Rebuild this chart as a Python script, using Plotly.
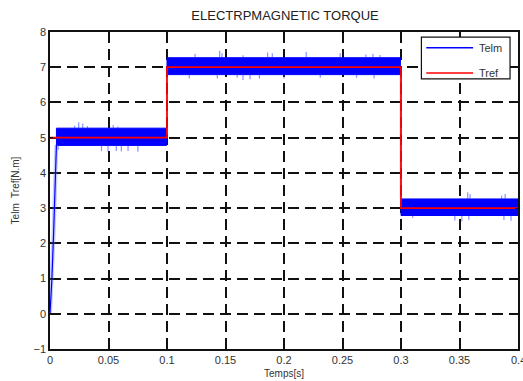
import plotly.graph_objects as go

# Reference torque (step profile)
tref_t = [0.0, 0.1, 0.3, 0.4]
tref_v = [5.0, 7.0, 3.0, 3.0]

# Measured torque: start-up rise
rise_t = [0.0, 0.0015, 0.003, 0.0045, 0.0055]
rise_v = [0.0, 0.9, 2.2, 3.8, 4.8]

# Measured torque: ripple band for each steady-state segment
seg_start = [0.0055, 0.1, 0.3]
seg_end = [0.0995, 0.2995, 0.4]
band_hi = [5.27, 7.27, 3.26]
band_lo = [4.78, 6.79, 2.79]

# Isolated ripple peaks above / below the band
peak_hi_t = [0.021, 0.0245, 0.028, 0.032, 0.054, 0.058,
             0.124, 0.145, 0.147, 0.165, 0.186, 0.190, 0.219, 0.248, 0.270, 0.276, 0.282,
             0.357, 0.359, 0.386, 0.389]
peak_hi_v = [5.34, 5.44, 5.40, 5.33, 5.36, 5.32,
             7.38, 7.47, 7.40, 7.34, 7.42, 7.40, 7.43, 7.40, 7.36, 7.38, 7.35,
             3.45, 3.40, 3.36, 3.40]
peak_lo_t = [0.007, 0.044, 0.0496, 0.0567, 0.061, 0.0667, 0.0751,
             0.119, 0.143, 0.160, 0.165, 0.171, 0.179, 0.200, 0.231, 0.262, 0.277,
             0.310, 0.346, 0.352, 0.358, 0.388, 0.394]
peak_lo_v = [4.66, 4.62, 4.60, 4.62, 4.61, 4.62, 4.60,
             6.68, 6.68, 6.70, 6.64, 6.66, 6.68, 6.68, 6.70, 6.70, 6.68,
             2.72, 2.65, 2.63, 2.66, 2.66, 2.64]

# Transition of the measured torque at t = 0.3 s
drop_t = [0.2995, 0.2995]
drop_v = [6.79, 3.26]

# x tick labels
x_ticks = [0, 0.05, 0.1, 0.15, 0.2, 0.25, 0.3, 0.35, 0.4]
x_tick_text = ["0", "0.05", "0.1", "0.15", "0.2", "0.25", "0.3", "0.35", "0.4"]

BLUE = "#0000ff"
RED = "#ff0000"
FONT = "Liberation Sans, Arial, sans-serif"
TXT = "#333"

fig = go.Figure()

# ripple band polygons
bx, by = [], []
for s, e, hi, lo in zip(seg_start, seg_end, band_hi, band_lo):
    bx += [s, e, e, s, s, None]
    by += [hi, hi, lo, lo, hi, None]
fig.add_trace(go.Scatter(x=bx, y=by, mode="lines", fill="toself", fillcolor=BLUE,
                         line=dict(color=BLUE, width=1), hoverinfo="skip", showlegend=False))


def seg_level(t, levels):
    for s, e, lv in zip(seg_start, seg_end, levels):
        if s <= t <= e:
            return lv
    return levels[-1]


px, py = [], []
for t, v in zip(peak_hi_t, peak_hi_v):
    px += [t, t, None]
    py += [seg_level(t, band_hi), v, None]
for t, v in zip(peak_lo_t, peak_lo_v):
    px += [t, t, None]
    py += [seg_level(t, band_lo), v, None]
fig.add_trace(go.Scatter(x=px, y=py, mode="lines", line=dict(color="rgba(40,60,255,0.55)", width=1.2),
                         hoverinfo="skip", showlegend=False))

# start-up rise (halo + line)
fig.add_trace(go.Scatter(x=rise_t, y=rise_v, mode="lines", line=dict(color="rgba(90,110,255,0.35)", width=4),
                         hoverinfo="skip", showlegend=False))
fig.add_trace(go.Scatter(x=rise_t, y=rise_v, mode="lines", line=dict(color=BLUE, width=1.2),
                         name="Telm", showlegend=False))
fig.add_trace(go.Scatter(x=drop_t, y=drop_v, mode="lines", line=dict(color="rgba(90,110,255,0.5)", width=1.2),
                         hoverinfo="skip", showlegend=False))

# reference torque
fig.add_trace(go.Scatter(x=tref_t, y=tref_v, mode="lines", line=dict(color=RED, width=1.8, shape="hv"),
                         name="Tref", showlegend=False))

axis_common = dict(
    showline=True, linecolor="#111", linewidth=1.6, mirror="ticks",
    ticks="inside", ticklen=3, tickcolor="#111", tickwidth=1,
    showgrid=True, gridcolor="#111", gridwidth=1.5, griddash="11px,6px",
    zeroline=False, tickfont=dict(family=FONT, size=11, color=TXT),
)
fig.update_xaxes(range=[0, 0.4], tickvals=x_ticks[:-1], ticktext=x_tick_text[:-1],
                 title=dict(text="Temps[s]", font=dict(family=FONT, size=10, color=TXT), standoff=5),
                 **axis_common)
fig.update_yaxes(range=[-1, 8], dtick=1,
                 title=dict(text="Telm  Tref[N.m]", font=dict(family=FONT, size=10, color=TXT), standoff=12),
                 **axis_common)

# last x tick label sits on the page edge; draw it as a plain label so it is cut by the page
fig.add_annotation(x=x_ticks[-1], xref="x", y=0, yref="paper", text=x_tick_text[-1], showarrow=False,
                   xanchor="center", yanchor="middle", yshift=-11,
                   font=dict(family=FONT, size=11, color=TXT))

# legend box
lx0, lx1, ly0, ly1 = 0.7936, 0.983, 0.852, 0.984
fig.add_shape(type="rect", xref="paper", yref="paper", x0=lx0, x1=lx1, y0=ly0, y1=ly1,
              line=dict(color="#111", width=1.2), fillcolor="white", layer="above")
for name, col, yy in [("Telm", BLUE, 0.950), ("Tref", RED, 0.871)]:
    fig.add_shape(type="line", xref="paper", yref="paper", x0=0.804, x1=0.904, y0=yy, y1=yy,
                  line=dict(color=col, width=1.5), layer="above")
    fig.add_annotation(xref="paper", yref="paper", x=0.913, y=yy, text=name, showarrow=False,
                       xanchor="left", yanchor="middle", font=dict(family=FONT, size=11, color=TXT))

fig.update_layout(
    width=523, height=381,
    margin=dict(l=50, r=3, t=32, b=31),
    paper_bgcolor="white", plot_bgcolor="white",
    title=dict(text="ELECTRPMAGNETIC TORQUE", x=0.545, xanchor="center", y=0.96, yanchor="middle",
               font=dict(family=FONT, size=13, color="#222")),
    showlegend=False,
)

fig.write_html("out.html")
